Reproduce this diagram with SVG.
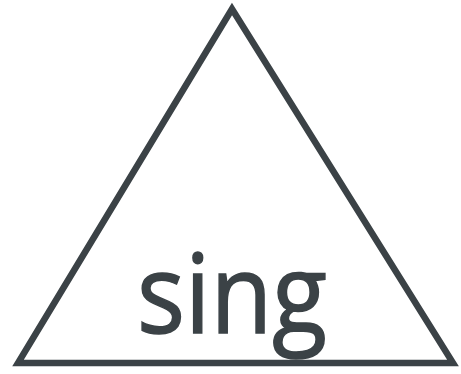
<svg xmlns="http://www.w3.org/2000/svg" width="461" height="374" viewBox="0 0 461 374">
<style>
.tri{fill:none;stroke:#3b4246;stroke-width:6.5;stroke-linejoin:miter}
.lbl{font-family:"Open Sans","Noto Sans",sans-serif;fill:#3b4246;stroke:#3b4246;stroke-width:1.5;font-size:110px}
</style>
<rect width="461" height="374" fill="#ffffff"/>
<g id="triangle">
<polygon class="tri" points="232,9 18,363 453,363"/>
<text class="lbl" x="137" y="333" textLength="190" lengthAdjust="spacingAndGlyphs">sing</text>
</g>
</svg>
